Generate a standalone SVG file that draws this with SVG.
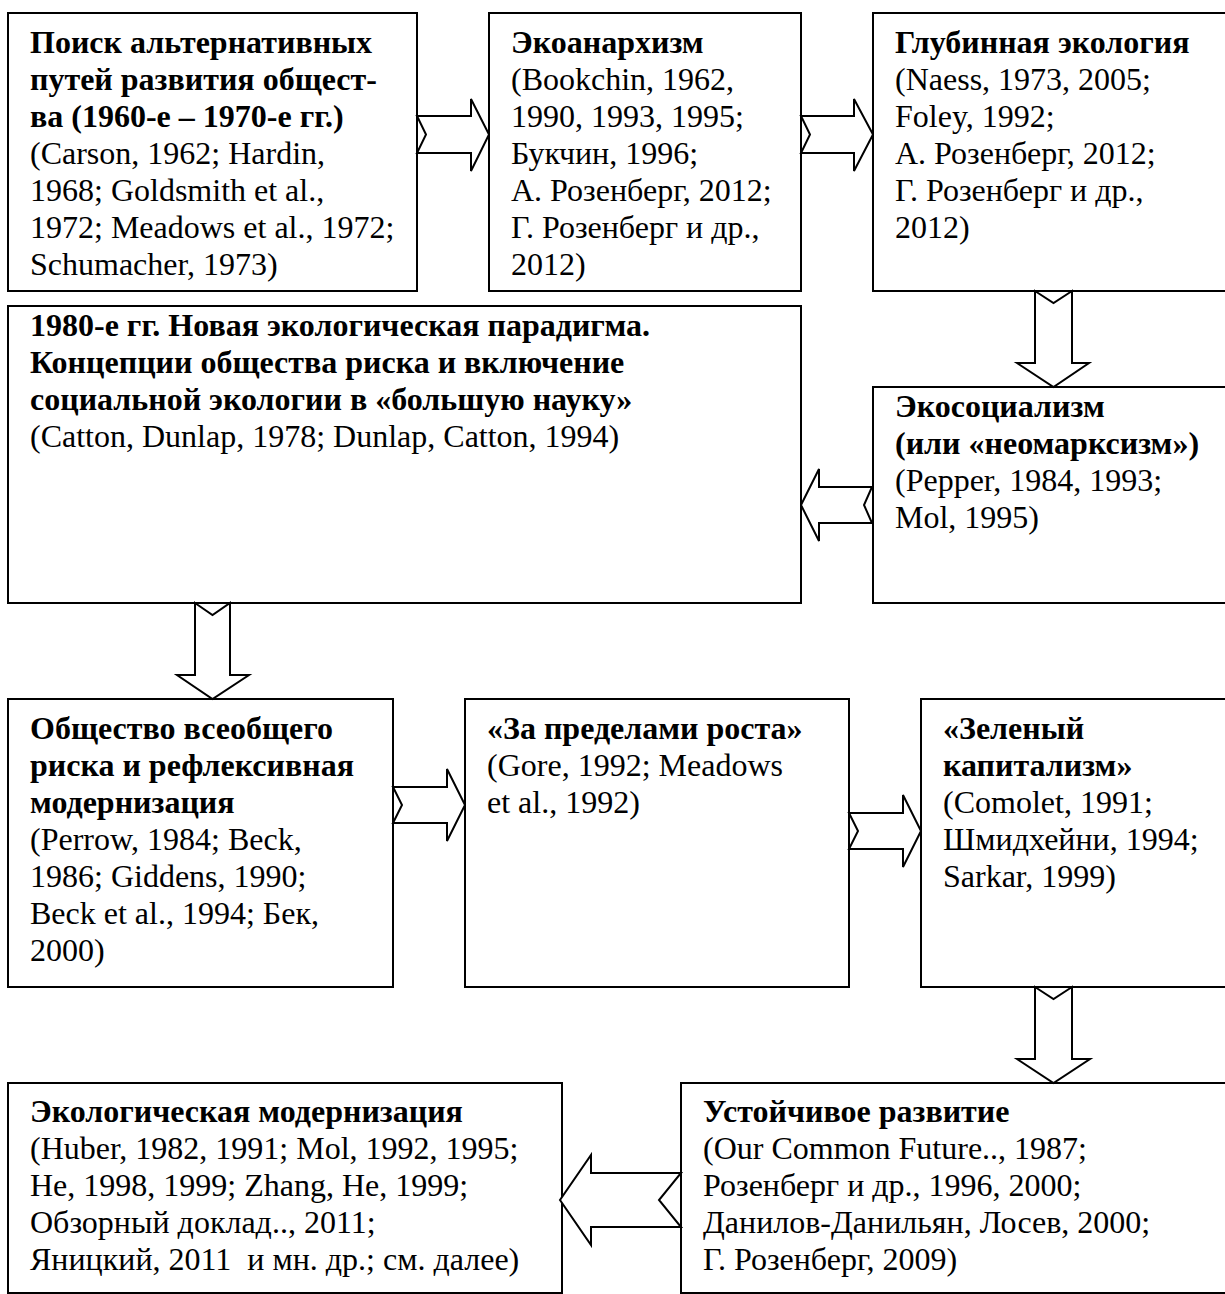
<svg xmlns="http://www.w3.org/2000/svg" width="1225" height="1294" viewBox="0 0 1225 1294">
<style>
.box{fill:#fff;stroke:#000;stroke-width:2}
.arr{fill:#fff;stroke:#000;stroke-width:2;stroke-linejoin:miter}
text{font-family:"Liberation Serif","Times New Roman",serif;font-size:32px;fill:#000;white-space:pre}
.b{font-weight:bold}
</style>
<rect width="1225" height="1294" fill="#fff"/>
<g id="n1">
<rect class="box" x="8" y="13" width="409" height="278"/>
<text x="30" y="53"><tspan class="b">Поиск альтернативных</tspan><tspan class="b" x="30" dy="37">путей развития общест-</tspan><tspan class="b" x="30" dy="37">ва (1960-е – 1970-е гг.)</tspan><tspan x="30" dy="37">(Carson, 1962; Hardin,</tspan><tspan x="30" dy="37">1968; Goldsmith et al.,</tspan><tspan x="30" dy="37">1972; Meadows et al., 1972;</tspan><tspan x="30" dy="37">Schumacher, 1973)</tspan></text>
</g>
<g id="n2">
<rect class="box" x="489" y="13" width="312" height="278"/>
<text x="511" y="53"><tspan class="b">Экоанархизм</tspan><tspan x="511" dy="37">(Bookchin, 1962,</tspan><tspan x="511" dy="37">1990, 1993, 1995;</tspan><tspan x="511" dy="37">Букчин, 1996;</tspan><tspan x="511" dy="37">А. Розенберг, 2012;</tspan><tspan x="511" dy="37">Г. Розенберг и др.,</tspan><tspan x="511" dy="37">2012)</tspan></text>
</g>
<g id="n3">
<rect class="box" x="873" y="13" width="360" height="278"/>
<text x="895" y="53"><tspan class="b">Глубинная экология</tspan><tspan x="895" dy="37">(Naess, 1973, 2005;</tspan><tspan x="895" dy="37">Foley, 1992;</tspan><tspan x="895" dy="37">А. Розенберг, 2012;</tspan><tspan x="895" dy="37">Г. Розенберг и др.,</tspan><tspan x="895" dy="37">2012)</tspan></text>
</g>
<g id="n4">
<rect class="box" x="8" y="306" width="793" height="297"/>
<text x="30" y="336"><tspan class="b">1980-е гг. Новая экологическая парадигма.</tspan><tspan class="b" x="30" dy="37">Концепции общества риска и включение</tspan><tspan class="b" x="30" dy="37">социальной экологии в «большую науку»</tspan><tspan x="30" dy="37">(Catton, Dunlap, 1978; Dunlap, Catton, 1994)</tspan></text>
</g>
<g id="n5">
<rect class="box" x="873" y="387" width="360" height="216"/>
<text x="895" y="417"><tspan class="b">Экосоциализм</tspan><tspan class="b" x="895" dy="37">(или «неомарксизм»)</tspan><tspan x="895" dy="37">(Pepper, 1984, 1993;</tspan><tspan x="895" dy="37">Mol, 1995)</tspan></text>
</g>
<g id="n6">
<rect class="box" x="8" y="699" width="385" height="288"/>
<text x="30" y="739"><tspan class="b">Общество всеобщего</tspan><tspan class="b" x="30" dy="37">риска и рефлексивная</tspan><tspan class="b" x="30" dy="37">модернизация</tspan><tspan x="30" dy="37">(Perrow, 1984; Beck,</tspan><tspan x="30" dy="37">1986; Giddens, 1990;</tspan><tspan x="30" dy="37">Beck et al., 1994; Бек,</tspan><tspan x="30" dy="37">2000)</tspan></text>
</g>
<g id="n7">
<rect class="box" x="465" y="699" width="384" height="288"/>
<text x="487" y="739"><tspan class="b">«За пределами роста»</tspan><tspan x="487" dy="37">(Gore, 1992; Meadows</tspan><tspan x="487" dy="37">et al., 1992)</tspan></text>
</g>
<g id="n8">
<rect class="box" x="921" y="699" width="312" height="288"/>
<text x="943" y="739"><tspan class="b">«Зеленый</tspan><tspan class="b" x="943" dy="37">капитализм»</tspan><tspan x="943" dy="37">(Comolet, 1991;</tspan><tspan x="943" dy="37">Шмидхейни, 1994;</tspan><tspan x="943" dy="37">Sarkar, 1999)</tspan></text>
</g>
<g id="n9">
<rect class="box" x="8" y="1083" width="554" height="210"/>
<text x="30" y="1122"><tspan class="b">Экологическая модернизация</tspan><tspan x="30" dy="37">(Huber, 1982, 1991; Mol, 1992, 1995;</tspan><tspan x="30" dy="37">He, 1998, 1999; Zhang, He, 1999;</tspan><tspan x="30" dy="37">Обзорный доклад.., 2011;</tspan><tspan x="30" dy="37">Яницкий, 2011  и мн. др.; см. далее)</tspan></text>
</g>
<g id="n10">
<rect class="box" x="681" y="1083" width="552" height="210"/>
<text x="703" y="1122"><tspan class="b">Устойчивое развитие</tspan><tspan x="703" dy="37">(Our Common Future.., 1987;</tspan><tspan x="703" dy="37">Розенберг и др., 1996, 2000;</tspan><tspan x="703" dy="37">Данилов-Данильян, Лосев, 2000;</tspan><tspan x="703" dy="37">Г. Розенберг, 2009)</tspan></text>
</g>
<g id="connectors">
<polygon class="arr" points="417,116 471,116 471,99 489,134.5 471,171 471,153 417,153 426,134.5"/>
<polygon class="arr" points="801,116 854,116 854,99 873,134.5 854,171 854,153 801,153 810,134.5"/>
<polygon class="arr" points="1035,291 1053.5,303 1072,291 1072,363 1089,363 1053.5,387 1017,363 1035,363"/>
<polygon class="arr" points="872,487 819,487 819,469 801,505 819,541 819,523 872,523 864,505"/>
<polygon class="arr" points="195,603 212.5,615 230,603 230,675 249,675 212.5,699 177,675 195,675"/>
<polygon class="arr" points="393,787 447,787 447,769 465,805 447,841 447,823 393,823 402,805"/>
<polygon class="arr" points="849,813 903,813 903,795 921,831 903,867 903,849 849,849 858,831"/>
<polygon class="arr" points="1035,987 1053.5,999 1072,987 1072,1059 1090,1059 1053.5,1083 1017,1059 1035,1059"/>
<polygon class="arr" points="681,1173 591,1173 591,1155 560,1200 591,1245 591,1227 681,1227 659,1200"/>
</g>
</svg>
